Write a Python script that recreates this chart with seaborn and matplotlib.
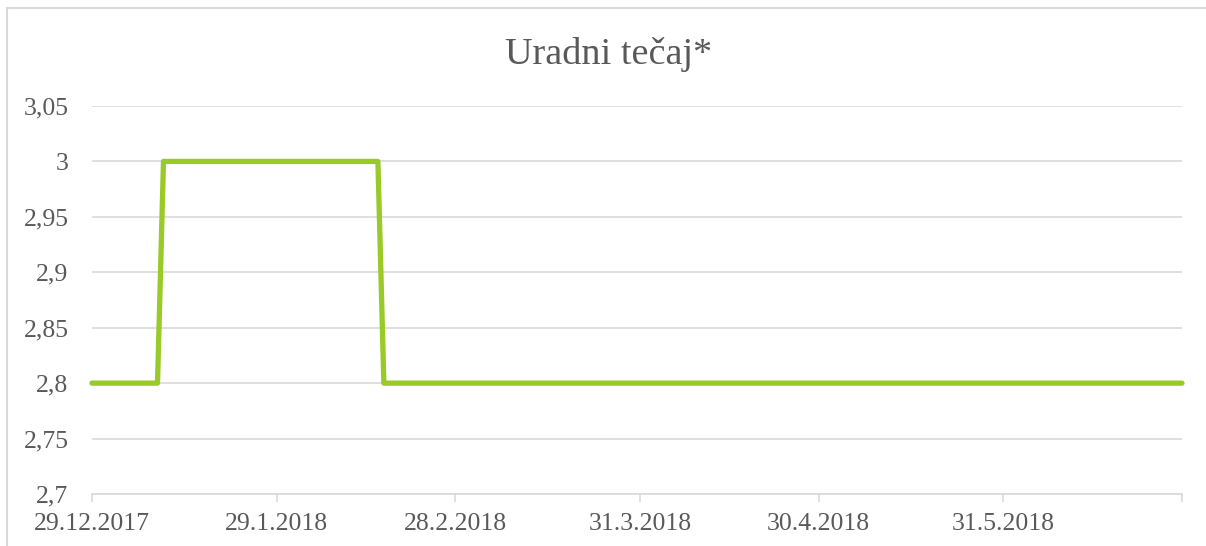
import matplotlib
matplotlib.use('Agg')
import matplotlib.pyplot as plt
import seaborn as sns
import pandas as pd
from matplotlib.patches import Rectangle
from matplotlib.ticker import FuncFormatter

# Official exchange rate, points where the level changes
dates = ['2017-12-29', '2018-01-09', '2018-01-10', '2018-02-15', '2018-02-16', '2018-06-30']
rate = [2.8, 2.8, 3.0, 3.0, 2.8, 2.8]

tick_dates = ['2017-12-29', '2018-01-29', '2018-02-28', '2018-03-31', '2018-04-30', '2018-05-31', '2018-06-30']
tick_labels = ['29.12.2017', '29.1.2018', '28.2.2018', '31.3.2018', '30.4.2018', '31.5.2018', '']
y_ticks = [2.7, 2.75, 2.8, 2.85, 2.9, 2.95, 3.0, 3.05]

df = pd.DataFrame({'datum': pd.to_datetime(dates), 'tecaj': rate})

sns.set_style('white')
plt.rcParams['font.family'] = ['Liberation Serif', 'DejaVu Serif']

fig = plt.figure(figsize=(12.06, 5.46), dpi=100)
ax = fig.add_axes([92 / 1206, 52 / 546, 1090 / 1206, 388 / 546])

sns.lineplot(data=df, x='datum', y='tecaj', ax=ax, color='#9ACA27', linewidth=3.8,
             solid_joinstyle='round', solid_capstyle='round', clip_on=False, zorder=3)

ax.set_xlim(pd.Timestamp(tick_dates[0]), pd.Timestamp(tick_dates[-1]))
ax.set_ylim(2.7, 3.05)
ax.set_xticks(pd.to_datetime(tick_dates))
ax.set_xticklabels(tick_labels)
ax.set_yticks(y_ticks)
ax.yaxis.set_major_formatter(FuncFormatter(lambda v, p: ('%g' % round(v, 2)).replace('.', ',')))

ax.grid(axis='y', color='#D9D9D9', linewidth=1.2)
ax.set_axisbelow(True)
for s in ['top', 'right', 'left']:
    ax.spines[s].set_visible(False)
ax.spines['bottom'].set_color('#D9D9D9')
ax.spines['bottom'].set_linewidth(1.2)
ax.tick_params(axis='x', length=6, width=1.2, color='#D9D9D9', direction='out',
               labelsize=18.5, labelcolor='#595959', pad=8, bottom=True)
ax.tick_params(axis='y', length=0, labelsize=18.5, labelcolor='#595959', pad=17)
ax.set_xlabel('')
ax.set_ylabel('')

fig.text(609, 546 - 54, 'Uradni tečaj*', transform=None, ha='center', va='center',
         fontsize=27.5, color='#595959')
fig.patches.append(Rectangle((7 / 1206, -0.1), 1.2, (546 - 8) / 546 + 0.1,
                             transform=fig.transFigure, fill=False,
                             edgecolor='#D9D9D9', linewidth=1.5))

fig.savefig('out.png', dpi=100)
